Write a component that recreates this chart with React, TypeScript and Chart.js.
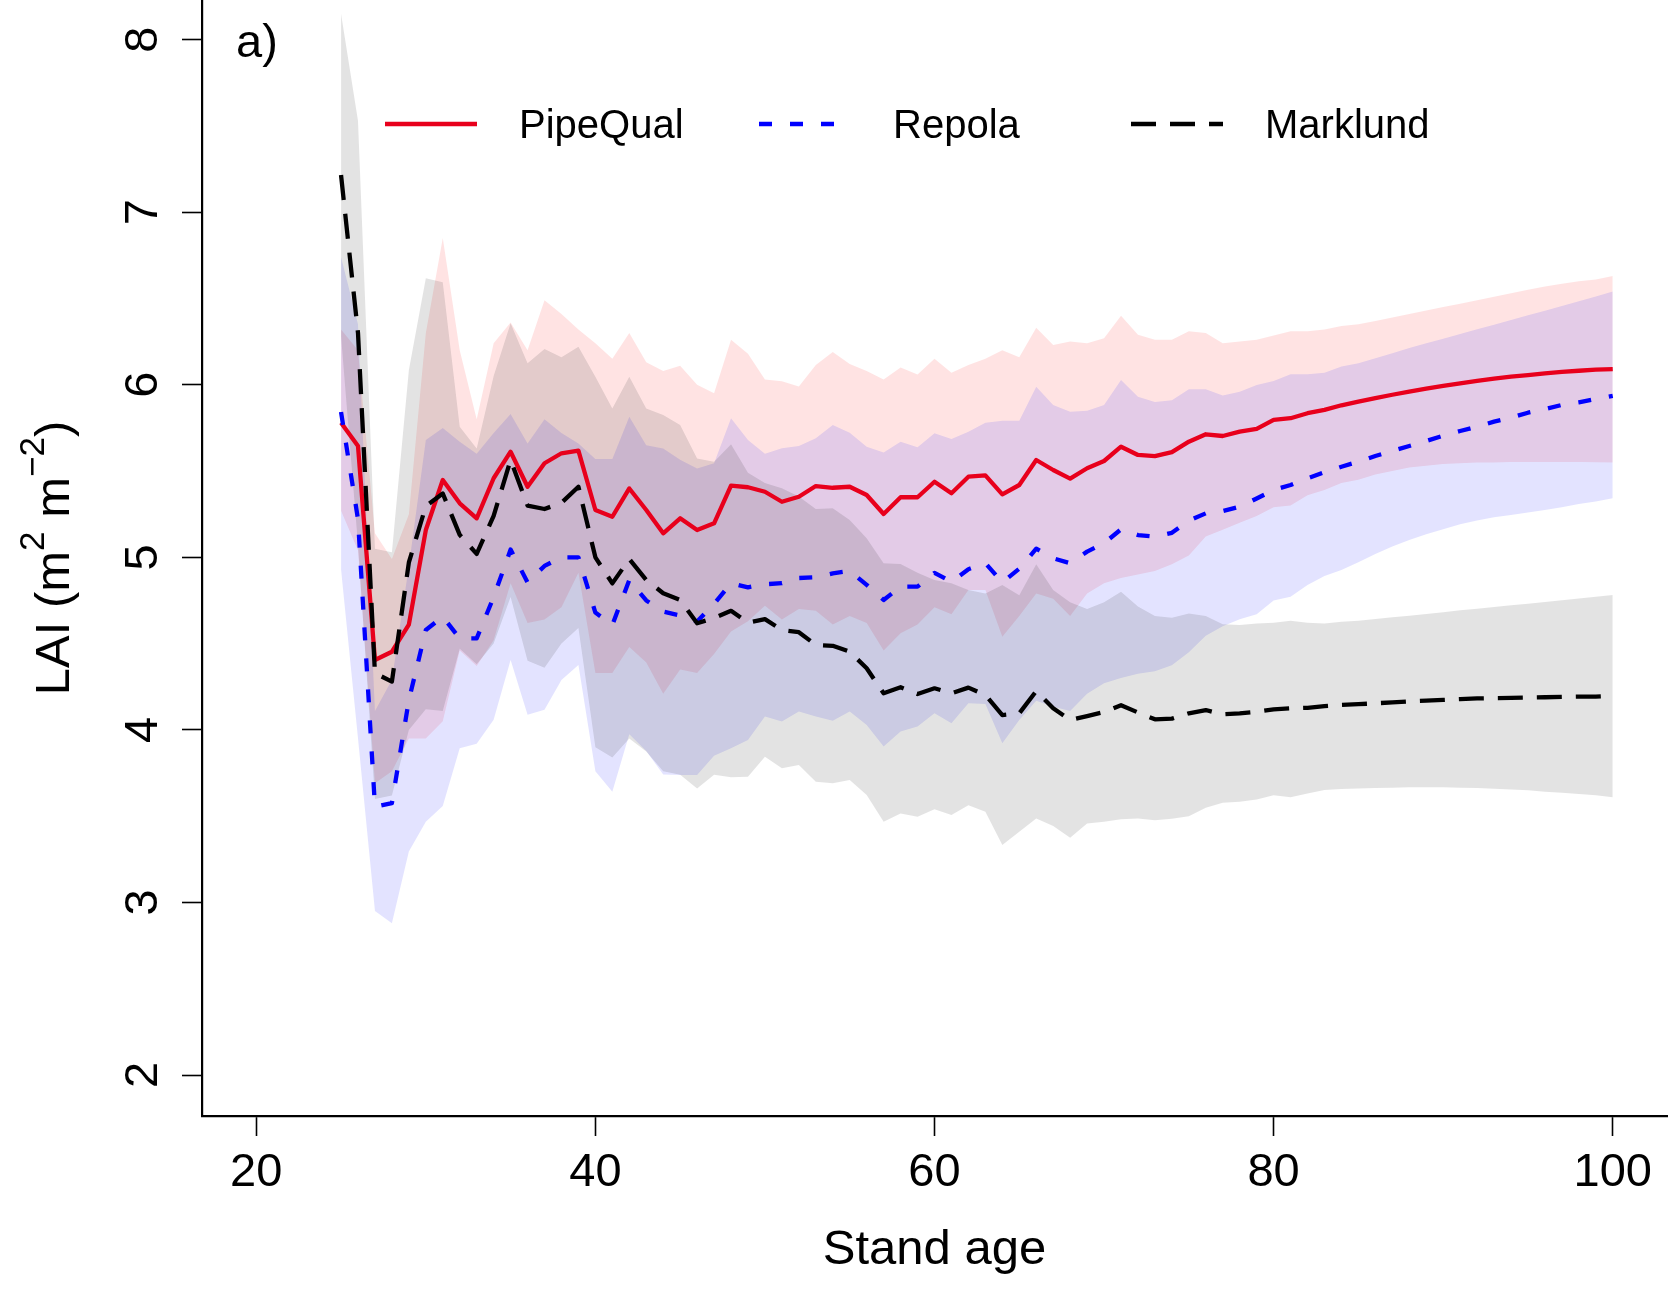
import React, { useEffect, useRef } from 'react';
import { Chart, registerables } from 'chart.js';

Chart.register(...registerables);

const ages = [
  25, 26, 27, 28, 29, 30, 31, 32, 33, 34,
  35, 36, 37, 38, 39, 40, 41, 42, 43, 44,
  45, 46, 47, 48, 49, 50, 51, 52, 53, 54,
  55, 56, 57, 58, 59, 60, 61, 62, 63, 64,
  65, 66, 67, 68, 69, 70, 71, 72, 73, 74,
  75, 76, 77, 78, 79, 80, 81, 82, 83, 84,
  85, 86, 87, 88, 89, 90, 91, 92, 93, 94,
  95, 96, 97, 98, 99, 100,
];

const pipeQual = [
  5.78, 5.645, 4.405, 4.453, 4.61, 5.158, 5.448, 5.313, 5.226, 5.458,
  5.612, 5.409, 5.545, 5.603, 5.618, 5.274, 5.235, 5.399, 5.274, 5.139,
  5.226, 5.158, 5.197, 5.415, 5.406, 5.38, 5.322, 5.351, 5.413, 5.403,
  5.409, 5.361, 5.251, 5.348, 5.348, 5.438, 5.371, 5.467, 5.475, 5.365,
  5.419, 5.564, 5.506, 5.456, 5.516, 5.558, 5.641, 5.593, 5.586, 5.61,
  5.67, 5.713, 5.703, 5.728, 5.744, 5.796, 5.806, 5.835, 5.854, 5.881,
  5.902, 5.923, 5.942, 5.96, 5.977, 5.993, 6.008, 6.022, 6.035, 6.047,
  6.056, 6.066, 6.074, 6.081, 6.087, 6.091,
];
const pipeQualUpper = [
  6.32, 6.2, 5.14, 4.99, 5.25, 6.3, 6.85, 6.2, 5.8, 6.24,
  6.36, 6.2, 6.49, 6.41, 6.32, 6.24, 6.15, 6.3, 6.13, 6.08,
  6.11, 6.0, 5.95, 6.26, 6.18, 6.03, 6.02, 5.99, 6.115, 6.19,
  6.12, 6.08, 6.03, 6.1, 6.06, 6.15, 6.07, 6.115, 6.15, 6.2,
  6.16, 6.33, 6.23, 6.25, 6.24, 6.27, 6.4, 6.29, 6.26, 6.26,
  6.31, 6.3, 6.24, 6.25, 6.26, 6.285, 6.31, 6.31, 6.32, 6.34,
  6.35, 6.37, 6.39, 6.41, 6.43, 6.45, 6.47, 6.49, 6.51, 6.53,
  6.55, 6.57, 6.585, 6.6, 6.61, 6.63,
];
const pipeQualLower = [
  5.27, 5.04, 3.69, 3.76, 3.95, 3.95, 4.05, 4.46, 4.37, 4.52,
  4.85, 4.62, 4.64, 4.71, 4.91, 4.33, 4.33, 4.48, 4.39, 4.21,
  4.35, 4.33, 4.44, 4.57, 4.63, 4.72, 4.64, 4.7, 4.69, 4.61,
  4.66, 4.62, 4.46, 4.56, 4.61, 4.71, 4.67, 4.81, 4.81, 4.54,
  4.66, 4.79, 4.76, 4.66, 4.79, 4.85, 4.88, 4.9, 4.92, 4.96,
  5.01, 5.12, 5.16, 5.2, 5.24, 5.29, 5.3, 5.36, 5.39, 5.43,
  5.45, 5.48, 5.5, 5.52, 5.53, 5.54, 5.545, 5.55, 5.55, 5.553,
  5.553, 5.553, 5.552, 5.552, 5.551, 5.55,
];

const repola = [
  5.842, 5.22, 3.555, 3.576, 4.173, 4.579, 4.656, 4.53, 4.53, 4.77,
  5.045, 4.855, 4.95, 5.0, 5.0, 4.68, 4.608, 4.868, 4.75, 4.685,
  4.663, 4.628, 4.73, 4.85, 4.826, 4.844, 4.85, 4.88, 4.884, 4.907,
  4.921, 4.84, 4.753, 4.83, 4.83, 4.91, 4.858, 4.931, 4.966, 4.855,
  4.934, 5.05, 4.994, 4.966, 5.033, 5.082, 5.162, 5.129, 5.119, 5.142,
  5.212, 5.255, 5.268, 5.293, 5.341, 5.39, 5.419, 5.458, 5.493, 5.525,
  5.554, 5.587, 5.616, 5.645, 5.674, 5.705, 5.732, 5.757, 5.786, 5.809,
  5.838, 5.859, 5.883, 5.898, 5.917, 5.935,
];
const repolaUpper = [
  6.74, 6.35, 4.11, 4.29, 4.95, 5.68, 5.75, 5.67, 5.6, 5.72,
  5.83, 5.66, 5.8, 5.72, 5.66, 5.57, 5.57, 5.815, 5.65, 5.63,
  5.565, 5.515, 5.545, 5.806, 5.68, 5.6, 5.632, 5.645, 5.69, 5.767,
  5.722, 5.641, 5.607, 5.67, 5.638, 5.719, 5.686, 5.728, 5.78, 5.792,
  5.792, 5.989, 5.883, 5.844, 5.85, 5.883, 6.028, 5.931, 5.9, 5.91,
  5.974, 5.974, 5.937, 5.96, 5.999, 6.022, 6.061, 6.061, 6.07, 6.105,
  6.124, 6.153, 6.182, 6.213, 6.24, 6.267, 6.294, 6.321, 6.348, 6.375,
  6.402, 6.429, 6.456, 6.484, 6.512, 6.54,
];
const repolaLower = [
  4.93, 3.95, 2.95, 2.88, 3.295, 3.468, 3.559, 3.893, 3.919, 4.058,
  4.405, 4.087, 4.116, 4.289, 4.376, 3.76, 3.642, 3.975, 3.878, 3.742,
  3.739, 3.739, 3.85, 3.893, 3.941, 4.077, 4.048, 4.106, 4.077, 4.053,
  4.106, 4.028, 3.903, 3.99, 4.019, 4.096, 4.038, 4.154, 4.15, 3.922,
  4.057, 4.169, 4.134, 4.11, 4.21, 4.27, 4.3, 4.325, 4.34, 4.375,
  4.45, 4.546, 4.6, 4.641, 4.67, 4.749, 4.772, 4.84, 4.892, 4.927,
  4.971, 5.019, 5.062, 5.1, 5.133, 5.162, 5.191, 5.213, 5.232, 5.245,
  5.259, 5.274, 5.29, 5.309, 5.323, 5.342,
];

const marklund = [
  7.215, 6.3, 4.328, 4.28, 4.97, 5.297, 5.37, 5.13, 5.02, 5.24,
  5.564, 5.3, 5.28, 5.316, 5.409, 5.0, 4.849, 4.99, 4.869, 4.792,
  4.753, 4.618, 4.648, 4.69, 4.621, 4.642, 4.579, 4.566, 4.492, 4.487,
  4.453, 4.357, 4.212, 4.247, 4.208, 4.241, 4.212, 4.245, 4.202, 4.086,
  4.096, 4.225, 4.125, 4.057, 4.08, 4.103, 4.143, 4.101, 4.061, 4.065,
  4.096, 4.115, 4.09, 4.096, 4.105, 4.119, 4.125, 4.128, 4.138, 4.145,
  4.149, 4.154, 4.159, 4.165, 4.169, 4.174, 4.178, 4.182, 4.184, 4.185,
  4.187, 4.189, 4.191, 4.193, 4.193, 4.197,
];
const marklundUpper = [
  8.15, 7.53, 5.05, 5.03, 6.085, 6.617, 6.594, 5.757, 5.631, 6.05,
  6.356, 6.124, 6.207, 6.159, 6.22, 6.047, 5.863, 6.047, 5.863, 5.824,
  5.766, 5.573, 5.554, 5.655, 5.49, 5.43, 5.4, 5.352, 5.28, 5.284,
  5.216, 5.11, 4.965, 4.961, 4.911, 4.869, 4.85, 4.81, 4.79, 4.84,
  4.78, 4.96, 4.81, 4.74, 4.7, 4.74, 4.8, 4.715, 4.66, 4.65,
  4.675, 4.66, 4.612, 4.608, 4.617, 4.621, 4.633, 4.621, 4.617, 4.627,
  4.633, 4.643, 4.652, 4.662, 4.672, 4.681, 4.693, 4.702, 4.712, 4.722,
  4.731, 4.741, 4.751, 4.762, 4.772, 4.782,
];
const marklundLower = [
  6.28, 5.07, 3.6, 3.62, 4.0, 4.12, 4.11, 4.47, 4.38, 4.5,
  4.77, 4.4, 4.36, 4.5, 4.59, 3.9, 3.84, 3.95, 3.875, 3.76,
  3.74, 3.66, 3.74, 3.725, 3.729, 3.845, 3.777, 3.796, 3.7, 3.69,
  3.71, 3.623, 3.468, 3.516, 3.497, 3.54, 3.507, 3.563, 3.526, 3.333,
  3.41, 3.487, 3.443, 3.375, 3.458, 3.468, 3.482, 3.487, 3.476, 3.485,
  3.499, 3.549, 3.578, 3.584, 3.597, 3.621, 3.609, 3.632, 3.652, 3.657,
  3.661, 3.663, 3.665, 3.667, 3.667, 3.667, 3.665, 3.663, 3.659, 3.655,
  3.65, 3.642, 3.636, 3.628, 3.621, 3.609,
];

const xTicks = [20, 40, 60, 80, 100];
const yTicks = [2, 3, 4, 5, 6, 7, 8];
const seriesNames = ['PipeQual', 'Repola', 'Marklund'];
const xTitle = 'Stand age';
const panelLabel = 'a)';

const FONT = '"Liberation Sans", Arial, Helvetica, sans-serif';
const RED = '#E8001C';
const BLUE = '#0000FF';
const BLACK = '#000000';
const DASH_BLUE = [13, 18];
const DASH_BLACK = [25, 14];
const LINE_W = 4.3;

function pts(vals: number[]) {
  return ages.map((a, i) => ({ x: a, y: vals[i] }));
}

function lineDs(label: string, vals: number[], color: string, dash: number[]) {
  return {
    label,
    data: pts(vals),
    borderColor: color,
    borderWidth: LINE_W,
    borderDash: dash,
    borderCapStyle: 'butt',
    borderJoinStyle: 'round',
    pointRadius: 0,
    fill: false,
    tension: 0,
  };
}

function bandDs(vals: number[], fillColor: string | undefined, fillTarget: any) {
  return {
    label: '',
    data: pts(vals),
    borderColor: 'rgba(0,0,0,0)',
    borderWidth: 0,
    backgroundColor: fillColor || 'rgba(0,0,0,0)',
    pointRadius: 0,
    fill: fillTarget,
    tension: 0,
  };
}

export default function App() {
  const ref = useRef<HTMLCanvasElement | null>(null);

  useEffect(() => {
    const canvas = ref.current;
    if (!canvas) return;

    const textPlugin = {
      id: 'rStyleText',
      afterDraw(chart: any) {
        const ctx = chart.ctx as CanvasRenderingContext2D;
        const xs = chart.scales.x;
        const ys = chart.scales.y;
        const area = chart.chartArea;
        ctx.save();
        ctx.fillStyle = '#000';

        // x tick labels
        ctx.font = `47px ${FONT}`;
        ctx.textAlign = 'center';
        ctx.textBaseline = 'alphabetic';
        for (const t of xTicks) {
          ctx.fillText(String(t), xs.getPixelForValue(t), area.bottom + 70);
        }
        // y tick labels (rotated, R style)
        for (const t of yTicks) {
          ctx.save();
          ctx.translate(area.left - 62, ys.getPixelForValue(t));
          ctx.rotate(-Math.PI / 2);
          ctx.fillText(String(t), 0, 17);
          ctx.restore();
        }

        // x title
        ctx.font = `49px ${FONT}`;
        ctx.fillText(xTitle, (area.left + area.right) / 2, area.bottom + 148);

        // y title with superscripts: LAI (m^2 m^-2)
        const parts: [string, boolean][] = [
          ['LAI (m', false],
          ['2', true],
          [' m', false],
          ['\u22122', true],
          [')', false],
        ];
        const mainFont = `49px ${FONT}`;
        const supFont = `35px ${FONT}`;
        let total = 0;
        const widths: number[] = [];
        for (const [s, sup] of parts) {
          ctx.font = sup ? supFont : mainFont;
          const w = ctx.measureText(s).width;
          widths.push(w);
          total += w;
        }
        ctx.save();
        ctx.translate(69, (area.top + area.bottom) / 2);
        ctx.rotate(-Math.PI / 2);
        ctx.textAlign = 'left';
        let cx = -total / 2;
        parts.forEach(([s, sup], i) => {
          ctx.font = sup ? supFont : mainFont;
          ctx.fillText(s, cx, sup ? -25 : 0);
          cx += widths[i];
        });
        ctx.restore();

        // panel label
        ctx.font = `47px ${FONT}`;
        ctx.textAlign = 'left';
        ctx.fillText(panelLabel, 236, 57);

        // legend
        const legendY = 124;
        const items = [
          { label: seriesNames[0], color: RED, dash: [] as number[], x0: 385 },
          { label: seriesNames[1], color: BLUE, dash: DASH_BLUE, x0: 759 },
          { label: seriesNames[2], color: BLACK, dash: DASH_BLACK, x0: 1131 },
        ];
        for (const it of items) {
          ctx.save();
          ctx.strokeStyle = it.color;
          ctx.lineWidth = LINE_W;
          ctx.lineCap = 'butt';
          ctx.setLineDash(it.dash);
          ctx.beginPath();
          ctx.moveTo(it.x0, legendY);
          ctx.lineTo(it.x0 + 92, legendY);
          ctx.stroke();
          ctx.restore();
          ctx.font = `40px ${FONT}`;
          ctx.textAlign = 'left';
          ctx.fillText(it.label, it.x0 + 134, legendY + 14);
        }
        ctx.restore();
      },
    };

    const chart = new Chart(canvas, {
      type: 'line',
      data: {
        datasets: [
          lineDs(seriesNames[2], marklund, BLACK, DASH_BLACK),
          lineDs(seriesNames[1], repola, BLUE, DASH_BLUE),
          lineDs(seriesNames[0], pipeQual, RED, []),
          bandDs(marklundUpper, 'rgba(0,0,0,0.11)', '+1'),
          bandDs(marklundLower, undefined, false),
          bandDs(repolaUpper, 'rgba(0,0,255,0.11)', '+1'),
          bandDs(repolaLower, undefined, false),
          bandDs(pipeQualUpper, 'rgba(255,0,0,0.11)', '+1'),
          bandDs(pipeQualLower, undefined, false),
        ] as any,
      },
      options: {
        responsive: false,
        animation: false,
        devicePixelRatio: 1,
        layout: { padding: { left: 0, right: 12, top: 0, bottom: 0 } },
        plugins: {
          legend: { display: false },
          tooltip: { enabled: false },
          filler: { drawTime: 'beforeDatasetsDraw', propagate: false },
        } as any,
        elements: { point: { radius: 0 }, line: { tension: 0 } },
        scales: {
          x: {
            type: 'linear',
            min: 16.8,
            max: 103.2,
            afterBuildTicks: (s: any) => {
              s.ticks = xTicks.map((v) => ({ value: v }));
            },
            afterFit: (s: any) => {
              s.height = 182;
            },
            ticks: { display: false },
            grid: {
              display: true,
              drawOnChartArea: false,
              drawTicks: true,
              tickLength: 20,
              tickWidth: 1.6,
              tickColor: '#000',
            },
            border: { display: true, color: '#000', width: 2.2 },
          },
          y: {
            type: 'linear',
            min: 1.7625,
            max: 8.2295,
            afterBuildTicks: (s: any) => {
              s.ticks = yTicks.map((v) => ({ value: v }));
            },
            afterFit: (s: any) => {
              s.width = 202;
            },
            ticks: { display: false },
            grid: {
              display: true,
              drawOnChartArea: false,
              drawTicks: true,
              tickLength: 20,
              tickWidth: 1.6,
              tickColor: '#000',
            },
            border: { display: true, color: '#000', width: 2.2 },
          },
        },
      } as any,
      plugins: [textPlugin],
    });

    return () => {
      chart.destroy();
    };
  }, []);

  return (
    <div
      style={{
        position: 'fixed',
        left: 0,
        top: 0,
        width: 1679,
        height: 1298,
        background: '#ffffff',
      }}
    >
      <canvas
        ref={ref}
        width={1679}
        height={1298}
        style={{ display: 'block', width: 1679, height: 1298 }}
      />
    </div>
  );
}
